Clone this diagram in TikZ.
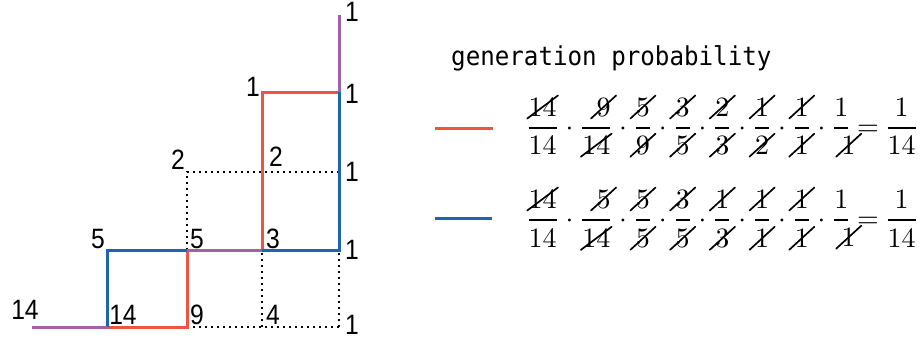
\documentclass[tikz,border=0pt]{standalone}
\usepackage{amsmath}
\usepackage{graphicx}
\usepackage{fontspec}
\newfontfamily\labfont[FakeStretch=0.88]{Liberation Sans}
\newfontfamily\titlefont[FakeStretch=0.93]{DejaVu Sans Mono}
\definecolor{pathred}{HTML}{EE5540}
\definecolor{pathblue}{HTML}{1F64B4}
\definecolor{pathpurple}{HTML}{A55FAA}
\newcommand\rfr[2]{\genfrac{}{}{0.6pt}{0}{#1}{#2}}
\newcommand\bfr[2]{\genfrac{}{}{0.95pt}{0}{#1}{#2}}
% cancel stroke: optional arg = horizontal overhang of the slash
\newcommand\cc[2][1.8pt]{\tikz[baseline=(cd.base)]{\node[inner sep=0pt] (cd) {$#2$};
  \draw[overlay,line width=0.6pt,line cap=round] ([xshift=-#1,yshift=-0.7pt]cd.south west) -- ([xshift=#1,yshift=0.7pt]cd.north east);}}
\newcommand\eqspacing{\medmuskip=3.6mu\thickmuskip=3.4mu}
\begin{document}
\begin{tikzpicture}[x=1pt,y=-1pt,
  redpath/.style={draw=pathred,line width=3pt},
  bluepath/.style={draw=pathblue,line width=3pt},
  purplepath/.style={draw=pathpurple,line width=3pt},
  gridline/.style={draw=black,line width=1.2pt,dash pattern=on 2pt off 4pt},
  lab/.style={inner sep=0pt,font=\labfont\fontsize{28}{30}\selectfont},
  eq/.style={inner sep=0pt,anchor=base west}]
\useasboundingbox (0,0) rectangle (923,340);
% grid points
\coordinate (s)  at (32,327);
\coordinate (a0) at (107,327);
\coordinate (b0) at (187,327);
\coordinate (c0) at (262,327);
\coordinate (d0) at (339,327);
\coordinate (a1) at (107,250);
\coordinate (b1) at (187,250);
\coordinate (c1) at (262,250);
\coordinate (d1) at (339,250);
\coordinate (b2) at (187,172);
\coordinate (c2) at (262,172);
\coordinate (d2) at (339,172);
\coordinate (c3) at (262,92);
\coordinate (d3) at (339,92);
\coordinate (d4) at (339,15);
% dotted grid
\path[gridline] (b0) -- (d0);
\path[gridline] (c0) -- (c1);
\path[gridline] (d0) -- (d1);
\path[gridline] (b1) -- (b2) -- (d2);
% red path
\path[redpath] (a0) -- (b0) -- (b1);
\path[redpath] (c1) -- (c3) -- (d3);
% blue path
\path[bluepath] (a0) -- (a1) -- (b1);
\path[bluepath] (c1) -- (d1) -- (d3);
% purple (shared) segments
\path[purplepath] (s) -- (a0);
\path[purplepath] (b1) -- (c1);
\path[purplepath] (d3) -- (d4);
% labels
\node[lab] (l14a) at (25,310) {14};
\node[lab] (l14b) at (123,315) {14};
\node[lab] (l9)   at (197,315) {9};
\node[lab] (l4)   at (273,315) {4};
\node[lab] (l1a)  at (352,325) {1};
\node[lab] (l5a)  at (98,239) {5};
\node[lab] (l5b)  at (197,239) {5};
\node[lab] (l3)   at (273,239) {3};
\node[lab] (l1b)  at (352,250) {1};
\node[lab] (l2a)  at (178,160) {2};
\node[lab] (l2b)  at (276,157) {2};
\node[lab] (l1c)  at (352,172) {1};
\node[lab] (l1d)  at (253,87) {1};
\node[lab] (l1e)  at (352,94) {1};
\node[lab] (l1f)  at (352,12) {1};
% legend
\node[inner sep=0pt,anchor=base west,font=\titlefont\fontsize{26}{28}\selectfont] (title) at (451,65) {generation probability};
\coordinate (rl1) at (435,128);
\coordinate (rl2) at (493,128);
\coordinate (bl1) at (435,218);
\coordinate (bl2) at (492,218);
\path[redpath] (rl1) -- (rl2);
\path[bluepath] (bl1) -- (bl2);
\node[eq] (redeq) at (525,135) {\scalebox{2.8}{$\eqspacing\displaystyle
 \rfr{\cc[0.3pt]{14}}{14}\cdot\rfr{\cc{9}}{\cc[0.3pt]{14}}\cdot\rfr{\cc{5}}{\cc{9}}\cdot\rfr{\cc{3}}{\cc{5}}\cdot\rfr{\cc{2}}{\cc{3}}\cdot\rfr{\cc{1}}{\cc{2}}\cdot\rfr{\cc{1}}{\cc{1}}\cdot\rfr{1}{\cc{1}}=\rfr{1}{14}$}};
\node[eq] (blueeq) at (525,227) {\scalebox{2.8}{$\eqspacing\displaystyle
 \bfr{\cc[0.3pt]{14}}{14}\cdot\bfr{\cc{5}}{\cc[0.3pt]{14}}\cdot\bfr{\cc{5}}{\cc{5}}\cdot\bfr{\cc{3}}{\cc{5}}\cdot\bfr{\cc{1}}{\cc{3}}\cdot\bfr{\cc{1}}{\cc{1}}\cdot\bfr{\cc{1}}{\cc{1}}\cdot\bfr{1}{\cc{1}}=\bfr{1}{14}$}};
\end{tikzpicture}
\end{document}
